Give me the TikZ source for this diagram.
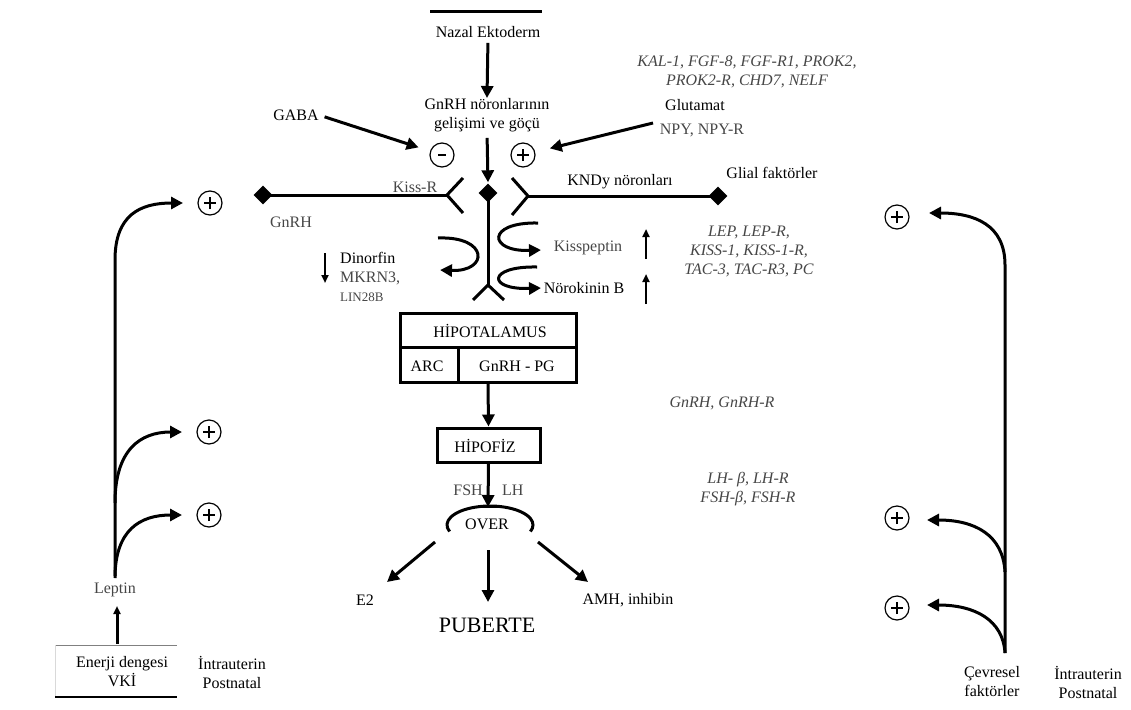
\documentclass[tikz,border=0pt]{standalone}
\usepackage{fontspec}
\setmainfont{Liberation Serif}
\usetikzlibrary{arrows.meta,shapes.geometric}
\definecolor{tg}{RGB}{70,70,70}
\begin{document}
\begin{tikzpicture}[x=1pt,y=-1pt,
 every node/.style={font=\fontsize{16}{19}\selectfont, inner sep=0pt},
 lbl/.style={align=center},
 gtxt/.style={text=tg},
 gene/.style={font=\fontsize{16}{19}\selectfont\itshape, text=tg, align=center},
 arr/.style={line width=3pt, -{Triangle[length=12pt,width=12pt]}},
 sarr/.style={line width=2.5pt, -{Triangle[length=8pt,width=7pt]}},
 thk/.style={line width=3pt},
 sign/.style={circle, draw, line width=1.2pt, minimum size=24pt},
 plus/.style={sign, path picture={\draw[line width=2pt] ([xshift=-6pt]path picture bounding box.center) -- ([xshift=6pt]path picture bounding box.center) ([yshift=-6pt]path picture bounding box.center) -- ([yshift=6pt]path picture bounding box.center);}},
 minus/.style={sign, path picture={\draw[line width=2pt] ([xshift=-4pt]path picture bounding box.center) -- ([xshift=4pt]path picture bounding box.center);}},
 dmd/.style={diamond, fill=black, minimum size=19pt, inner sep=0pt},
]
\useasboundingbox (0,0) rectangle (1131,709);

% top
\draw[thk] (430,12) -- (542,12);
\node (nazal) at (488,32) {Nazal Ektoderm};
\node[lbl] (gnrhdev) at (487,115) {GnRH nöronlarının\\gelişimi ve göçü};
\draw[arr, shorten <=5pt] (nazal.south) -- (gnrhdev.north);

\node[gene] (genes1) at (747,72) {KAL-1, FGF-8, FGF-R1, PROK2,\\PROK2-R, CHD7, NELF};
\node (gaba) at (296,115) {GABA};
\node[minus] (mns) at (442,155) {};
\node[plus] (pls) at (523,155) {};
\draw[arr, shorten <=6pt, shorten >=12pt] (gaba.east) -- (mns);
\node (glu) at (695,105) {Glutamat};
\node[gtxt] (npy) at (702,130) {NPY, NPY-R};
\coordinate (glu0) at (653,123);
\draw[arr, shorten >=15pt] (glu0) -- (pls);

% central receptor area
\node[dmd] (cd) at (488,193) {};
\draw[arr, shorten <=6pt, shorten >=1pt] (gnrhdev.south) -- (cd.north);
\node[dmd] (ld) at (263,195) {};
\coordinate (lrj) at (447,195);
\draw[thk] (ld.center) -- (lrj);
\draw[thk] (463,178) -- (lrj) -- (463,213);
\coordinate (rrj) at (528,196);
\node[dmd] (rd) at (718,196) {};
\draw[thk] (512,178) -- (rrj) -- (512,215);
\draw[thk] (rrj) -- (rd.center);
\coordinate (byj) at (488,285);
\draw[thk] (cd.center) -- (byj);
\draw[thk] (473,300) -- (byj) -- (504,300);

\node[gtxt] (kissr) at (415,187) {Kiss-R};
\node[gtxt] (gnrhl) at (291,222) {GnRH};
\node (kndy) at (620,182) {KNDy nöronları};
\node (glial) at (772,173) {Glial faktörler};

% curved arrows
\draw[arr] (438,238) .. controls (489,236) and (489,272) .. (440,270);
\draw[arr] (538,223) .. controls (486,222) and (488,252) .. (541,250);
\draw[arr] (537,267) .. controls (487,266) and (487,290) .. (541,288);

\node[gtxt] (kissp) at (588,248) {Kisspeptin};
\node (nkb) at (584,288) {Nörokinin B};
\node[anchor=west] (din) at (340,258) {Dinorfin};
\node[anchor=west, gtxt] (mkrn) at (340,278) {MKRN3,};
\node[anchor=west, gtxt, font=\fontsize{13}{15}\selectfont] (lin) at (340,297) {LIN28B};
\draw[sarr] (325,253) -- (325,283);
\draw[sarr] (646,259) -- (646,229);
\draw[sarr] (646,304) -- (646,274);
\node[gene] (genes2) at (749,251) {LEP, LEP-R,\\KISS-1, KISS-1-R,\\TAC-3, TAC-R3, PC};

% hypothalamus
\node[draw, thk, minimum width=176pt, minimum height=69pt] (hyp) at (488,347.5) {};
\draw[thk] (400,347) -- (576,347);
\draw[thk] (458,347) -- (458,382);
\node (hyptxt) at (490,331) {HİPOTALAMUS};
\node (arc) at (427,366) {ARC};
\node (pg) at (517,366) {GnRH - PG};

\node[draw, thk, minimum width=103pt, minimum height=34pt] (hip) at (488.5,445) {};
\node (hiptxt) at (485,446) {HİPOFİZ};
\draw[arr] (hyp.south) -- (hip.north);
\node[gene] (genes3) at (722,403) {GnRH, GnRH-R};
\node[gene] (genes4) at (748,489) {LH- \textit{β}, LH-R\\FSH-\textit{β}, FSH-R};

% ovary
\coordinate (ovtop) at (488,507);
\draw[arr] (hip.south) -- (ovtop);
\draw[line width=0.8pt] (468,507) -- (508,507);
\node[gtxt, anchor=east] (fsh) at (483,490) {FSH};
\node[gtxt, anchor=west] (lh) at (502,490) {LH};
\draw[thk] (490,525) ++(200:43pt and 19pt) arc[start angle=200, end angle=-20, x radius=43pt, y radius=19pt];
\node (over) at (487,524) {OVER};
\coordinate (ovl) at (435,542);
\coordinate (ovm) at (488,550);
\coordinate (ovr) at (538,542);
\node (e2) at (365,600) {E2};
\node (amh) at (628,600) {AMH, inhibin};
\node[font=\fontsize{22}{24}\selectfont] (pub) at (487,625) {PUBERTE};
\draw[arr] (ovl) -- (387,582);
\draw[arr] (ovm) -- (488,602);
\draw[arr] (ovr) -- (588,582);

% left side
\node[plus] (lp1) at (210,203) {};
\node[plus] (lp2) at (209,432) {};
\node[plus] (lp3) at (209,515) {};
\node[gtxt] (lep) at (115,590) {Leptin};
\draw[arr, shorten <=7pt] (lep.north) -- (115,260) .. controls (115,215) and (140,203) .. (183,203);
\draw[arr] (115,503) .. controls (115,450) and (140,432) .. (182,432);
\draw[arr] (115,578) .. controls (115,530) and (140,515) .. (182,515);
\coordinate (eb) at (117,644);
\draw[sarr, line width=3pt] (eb) -- (117,606);
\draw[line width=0.8pt, gray] (55,645) -- (177,645);
\draw[line width=0.4pt, black!15] (55,645) -- (55,697);
\draw[line width=2.5pt] (55,697) -- (177,697);
\node[lbl] (ener) at (122,672) {Enerji dengesi\\VKİ};
\node[lbl] (intl) at (232,672) {İntrauterin\\Postnatal};

% right side
\node[plus] (rp1) at (897,217) {};
\node[plus] (rp2) at (897,518) {};
\node[plus] (rp3) at (897,608) {};
\coordinate (rv) at (1005,653);
\draw[arr] (rv) -- (1005,265) .. controls (1005,225) and (975,213) .. (929,213);
\draw[arr] (1005,572) .. controls (1003,535) and (975,520) .. (927,520);
\draw[arr] (rv) .. controls (1003,620) and (975,605) .. (927,605);
\node[lbl] (cevre) at (992,682) {Çevresel\\faktörler};
\node[lbl] (intr) at (1088,682) {İntrauterin\\Postnatal};
\end{tikzpicture}
\end{document}
